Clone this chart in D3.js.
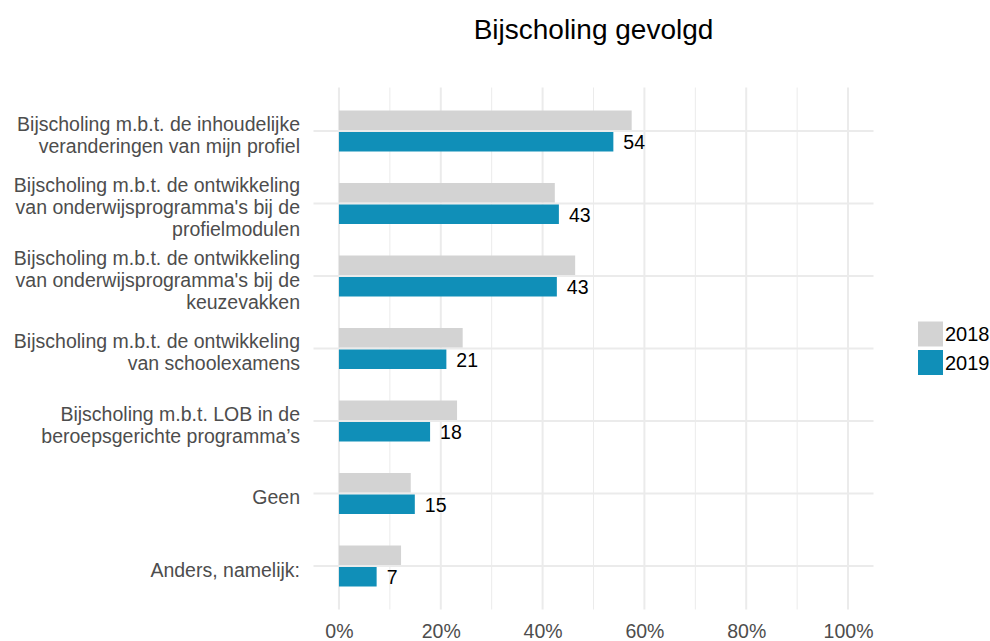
<!DOCTYPE html>
<html lang="nl">
	<head>
		<meta charset="utf-8">
		<title>Bijscholing gevolgd</title>
		<script type="text/javascript" src="https://cdn.jsdelivr.net/npm/d3@7"></script>
		<style>
			body { margin: 0; background: #fff; }
			text { font-family: "Liberation Sans", Arial, sans-serif; }
		</style>
	</head>
	<body>
		<script type="text/javascript">

			//
			// Data
			//

			var categories = [
				["Bijscholing m.b.t. de inhoudelijke", "veranderingen van mijn profiel"],
				["Bijscholing m.b.t. de ontwikkeling", "van onderwijsprogramma's bij de", "profielmodulen"],
				["Bijscholing m.b.t. de ontwikkeling", "van onderwijsprogramma's bij de", "keuzevakken"],
				["Bijscholing m.b.t. de ontwikkeling", "van schoolexamens"],
				["Bijscholing m.b.t. LOB in de", "beroepsgerichte programma\u2019s"],
				["Geen"],
				["Anders, namelijk:"]
			];
			var years = ["2018", "2019"];
			var values2018 = [57.5, 42.4, 46.4, 24.3, 23.2, 14.1, 12.2];
			var values2019 = [53.9, 43.2, 42.8, 21.1, 17.9, 14.9, 7.4];
			var majorTicks = [0, 20, 40, 60, 80, 100];
			var minorTicks = [10, 30, 50, 70, 90];
			var colors = ["#d3d3d3", "#108fb8"];

			//
			// Layout
			//

			var width = 990, height = 641;
			var panel = { left: 313.5, right: 873.5, top: 87.5, bottom: 609.5 };

			var svg = d3.select("body")
				.append("svg")
				.attr("width", width)
				.attr("height", height);

			var x = d3.scaleLinear()
				.domain([-5, 105])
				.range([panel.left, panel.right]);

			var y = d3.scalePoint()
				.domain(d3.range(categories.length))
				.range([panel.top, panel.bottom])
				.padding(0.6);

			// gridlines
			svg.append("g").selectAll("line")
				.data(minorTicks)
				.enter()
				.append("line")
				.attr("x1", function(d) { return x(d); })
				.attr("x2", function(d) { return x(d); })
				.attr("y1", panel.top)
				.attr("y2", panel.bottom)
				.attr("stroke", "#ebebeb")
				.attr("stroke-width", 1);

			svg.append("g").selectAll("line")
				.data(majorTicks)
				.enter()
				.append("line")
				.attr("x1", function(d) { return x(d); })
				.attr("x2", function(d) { return x(d); })
				.attr("y1", panel.top)
				.attr("y2", panel.bottom)
				.attr("stroke", "#ebebeb")
				.attr("stroke-width", 2);

			svg.append("g").selectAll("line")
				.data(categories)
				.enter()
				.append("line")
				.attr("x1", panel.left)
				.attr("x2", panel.right)
				.attr("y1", function(d, i) { return y(i); })
				.attr("y2", function(d, i) { return y(i); })
				.attr("stroke", "#ebebeb")
				.attr("stroke-width", 2);

			// bars
			var barH = 19.5;
			var series = [values2018, values2019];

			series.forEach(function(vals, s) {
				svg.append("g").selectAll("rect")
					.data(vals)
					.enter()
					.append("rect")
					.attr("x", x(0))
					.attr("y", function(d, i) { return s === 0 ? y(i) - 1 - barH : y(i) + 1; })
					.attr("width", function(d) { return x(d) - x(0); })
					.attr("height", barH)
					.attr("fill", colors[s]);
			});

			// value labels (2019 only)
			svg.append("g").selectAll("text")
				.data(values2019)
				.enter()
				.append("text")
				.attr("x", function(d) { return x(d) + 10; })
				.attr("y", function(d, i) { return y(i) + 11.5; })
				.attr("dy", "0.35em")
				.attr("font-size", 19.5)
				.attr("fill", "#000")
				.text(function(d) { return d3.format(".0f")(d); });

			// x axis
			var xAxis = d3.axisBottom(x)
				.tickValues(majorTicks)
				.tickFormat(function(d) { return d + "%"; })
				.tickSize(0)
				.tickPadding(0);

			var gx = svg.append("g")
				.attr("transform", "translate(0," + 624 + ")")
				.call(xAxis);
			gx.select(".domain").remove();
			gx.selectAll("text")
				.attr("font-size", 19.5)
				.attr("font-family", "Liberation Sans, Arial, sans-serif")
				.attr("fill", "#4d4d4d");

			// y labels
			var lineH = 22;
			var yl = svg.append("g").selectAll("text")
				.data(categories)
				.enter()
				.append("text")
				.attr("text-anchor", "end")
				.attr("font-size", 19.5)
				.attr("fill", "#4d4d4d")
				.attr("y", function(d, i) { return y(i); });

			yl.selectAll("tspan")
				.data(function(d) { return d.map(function(t, j) { return { t: t, j: j, n: d.length }; }); })
				.enter()
				.append("tspan")
				.attr("x", 300)
				.attr("dy", function(d) { return d.j === 0 ? ((-(d.n - 1) / 2) * lineH + 10.5) + "px" : lineH + "px"; })
				.text(function(d) { return d.t; });

			// title
			svg.append("text")
				.attr("x", (panel.left + panel.right) / 2)
				.attr("y", 38.5)
				.attr("text-anchor", "middle")
				.attr("font-size", 28)
				.attr("fill", "#000")
				.text("Bijscholing gevolgd");

			// legend
			var legend = svg.append("g").selectAll("g")
				.data(years)
				.enter()
				.append("g")
				.attr("transform", function(d, i) { return "translate(918," + (321.5 + i * 28.5) + ")"; });

			legend.append("rect")
				.attr("width", 25)
				.attr("height", 25)
				.attr("fill", function(d, i) { return colors[i]; });

			legend.append("text")
				.attr("x", 27)
				.attr("y", 12.5)
				.attr("dy", "0.35em")
				.attr("font-size", 20)
				.attr("fill", "#000")
				.text(function(d) { return d; });

		</script>
	</body>
</html>
